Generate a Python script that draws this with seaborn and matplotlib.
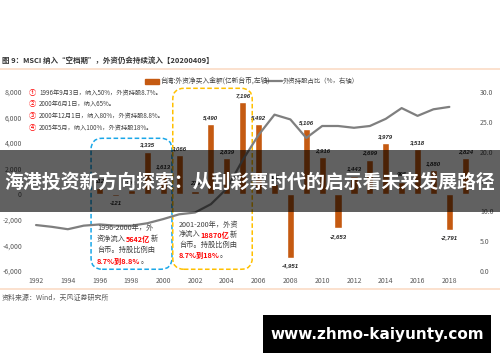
import numpy as np
import pandas as pd
import matplotlib
matplotlib.use('Agg')
import matplotlib.pyplot as plt
import seaborn as sns
from matplotlib.patches import FancyBboxPatch, Rectangle
from matplotlib.lines import Line2D

sns.set_theme(style='white')
plt.rcParams['font.family'] = ['Noto Sans CJK SC', 'DejaVu Sans']
plt.rcParams['axes.unicode_minus'] = False

# ---- data ----
bar_years = list(range(1996, 2020))
bar_values = [512, -121, 303, 3335, 1613, 3066, 279, 5490, 2839, 7196, 5492, 812,
              -4951, 5106, 2916, -2653, 1443, 2699, 3979, 995, 3518, 1880, -2791, 2824]

line_years = list(range(1992, 2019))
line_values = [7.7, 7.4, 7.0, 7.6, 7.8, 7.6, 7.6, 8.0, 8.7, 9.5, 9.8, 11.2, 13.8, 18.6,
               22.8, 26.2, 25.4, 22.3, 24.3, 24.3, 24.0, 24.3, 25.5, 27.3, 26.0, 27.1, 27.5]

x_ticks = list(range(1992, 2019, 2))
left_ticks = list(range(-6000, 8001, 2000))
right_ticks = [0, 5, 10, 15, 20, 25, 30]

bar_name = '台湾:外资净买入金额(亿新台币,左轴)'
line_name = '外资持股占比（%，右轴）'
title = '图 9：MSCI 纳入“空档期”，外资仍会持续流入【20200409】'
source = '资料来源：Wind，天风证券研究所'
events = ['1996年9月3日，纳入50%，外资持股8.7%。',
          '2000年6月1日，纳入65%。',
          '2000年12月1日，纳入80%，外资持股8.8%。',
          '2005年5月，纳入100%，外资持股18%。']
marks = ['①', '②', '③', '④']
banner = '海港投资新方向探索：从刮彩票时代的启示看未来发展路径'
watermark = 'www.zhmo-kaiyunty.com'

BAR_COLOR = '#C55A11'
LINE_COLOR = '#7F7F7F'
TXT = '#404040'
TICK = '#595959'
RED = '#FF0000'

W, H = 500, 362
def fx(px):
    return px / W
def fy(py):
    return 1 - py / H

fig = plt.figure(figsize=(5, 3.62), dpi=100)
fig.patch.set_facecolor('white')
ax = fig.add_axes([0.054, 0.2514, 0.9, 0.4945])

df_bar = pd.DataFrame({'year': bar_years, 'value': bar_values})
sns.barplot(data=df_bar, x='year', y='value', native_scale=True, width=0.45,
            color=BAR_COLOR, saturation=1, errorbar=None, ax=ax)

ax.set_xlim(1991.43, 2019.74)
ax.set_ylim(-6000, 8000)
ax.set_xticks(x_ticks)
ax.set_xticklabels([str(t) for t in x_ticks])
ax.set_yticks(left_ticks)
ax.set_yticklabels([f'{t:,}' for t in left_ticks])
ax.set_xlabel('')
ax.set_ylabel('')
ax.tick_params(axis='both', length=0, labelsize=5, colors=TICK)
ax.tick_params(axis='x', pad=4.3)
ax.tick_params(axis='y', pad=3.6)
for s in ax.spines.values():
    s.set_visible(False)
ax.set_facecolor('none')

for yr, v in zip(bar_years, bar_values):
    if v >= 0:
        ax.text(yr, v + 330, f'{v:,}', ha='center', va='bottom', fontsize=4.3,
                fontweight='bold', style='italic', color='#262626', family='Liberation Sans')
    else:
        ax.text(yr, v - 430, f'{v:,}', ha='center', va='top', fontsize=4.3,
                fontweight='bold', style='italic', color='#262626', family='Liberation Sans')

ax2 = ax.twinx()
sns.lineplot(x=line_years, y=line_values, ax=ax2, color=LINE_COLOR, lw=1.6)
ax2.set_ylim(0, 30)
ax2.set_yticks(right_ticks)
ax2.set_yticklabels([f'{t:.1f}' for t in right_ticks])
ax2.set_ylabel('')
ax2.tick_params(axis='y', length=0, labelsize=5, colors=TICK, pad=2.2)
for s in ax2.spines.values():
    s.set_visible(False)

# dashed boxes (data coords of the left axis)
asp = (14000 / 179) / (28.31 / 450)
blue_box = FancyBboxPatch((1995.46, -5864), 5.09, 10242,
                          boxstyle='round,pad=0,rounding_size=0.7', mutation_aspect=asp,
                          fill=False, ec='#1AA7E8', lw=1.1, ls=(0, (3, 1.6)),
                          transform=ax.transData, clip_on=False, zorder=5)
yellow_box = FancyBboxPatch((2000.6, -5864), 5.0, 14152,
                            boxstyle='round,pad=0,rounding_size=0.7', mutation_aspect=asp,
                            fill=False, ec='#FFC000', lw=1.1, ls=(0, (3, 1.6)),
                            transform=ax.transData, clip_on=False, zorder=5)
ax.add_patch(blue_box)
ax.add_patch(yellow_box)

# title, rules, source
fig.text(fx(2), fy(60), title, fontsize=5.4, fontweight='bold', color='#333333',
         ha='left', va='center')
fig.add_artist(Line2D([0, 1], [fy(69), fy(69)], color='#FBDCC6', lw=1.2,
                      transform=fig.transFigure))
fig.add_artist(Line2D([0, 1], [fy(289), fy(289)], color='#FBDCC6', lw=1.2,
                      transform=fig.transFigure))
fig.text(fx(2), fy(298), source, fontsize=5.0, color=TICK, ha='left', va='center')

# legend
fig.add_artist(Rectangle((fx(145), fy(83.5)), fx(14), 4.5 / H, color=BAR_COLOR,
                         transform=fig.transFigure))
fig.text(fx(160), fy(81), bar_name, fontsize=4.9, color=TXT, ha='left', va='center')
fig.add_artist(Line2D([fx(267), fx(282)], [fy(81), fy(81)], color=LINE_COLOR, lw=1.6,
                      transform=fig.transFigure))
fig.text(fx(283), fy(81), line_name, fontsize=4.6, color=TXT, ha='left', va='center')

# event list
for mk, ev, py in zip(marks, events, [93, 104, 116, 128]):
    fig.text(fx(32), fy(py), mk, fontsize=5.2, color=RED, ha='center', va='center')
    fig.text(fx(39), fy(py), ev, fontsize=4.5, color=TXT, ha='left', va='center')


def rich_line(px, py, parts, fs=5.2):
    prev = None
    for text, red in parts:
        kw = dict(fontsize=fs, color=RED if red else TXT,
                  fontweight='bold' if red else 'normal')
        if prev is None:
            prev = fig.text(fx(px), fy(py), text, ha='left', va='bottom', **kw)
        else:
            prev = ax.annotate(text, xy=(1, 0), xycoords=prev, ha='left', va='bottom', **kw)


rich_line(97, 232, [('1996-2000年，外', False)])
rich_line(97, 243, [('资净流入', False), ('5642亿', True), ('新', False)])
rich_line(97, 254, [('台币。持股比例由', False)])
rich_line(97, 265, [('8.7%到8.8%', True), ('。', False)])

rich_line(179, 229, [('2001-200年，外资', False)])
rich_line(179, 239, [('净流入', False), ('18870亿', True), ('新', False)])
rich_line(179, 249, [('台币。持股比例由', False)])
rich_line(179, 259, [('8.7%到18%', True), ('。', False)])

# overlay banner
fig.add_artist(Rectangle((0, fy(212)), 1, 62 / H, facecolor='black', alpha=0.62,
                         edgecolor='none', transform=fig.transFigure, zorder=10))
fig.text(0.5, fy(182), banner, fontsize=13.6, fontweight='bold', color='white',
         ha='center', va='center', zorder=11)

# watermark
fig.add_artist(Rectangle((fx(263), fy(353)), fx(228), 38 / H, facecolor='black',
                         edgecolor='none', transform=fig.transFigure, zorder=10))
fig.text(fx(377), fy(334.5), watermark, fontsize=11, fontweight='bold', color='white',
         family='DejaVu Sans', ha='center', va='center', zorder=11)

fig.savefig('out.png', dpi=100)
